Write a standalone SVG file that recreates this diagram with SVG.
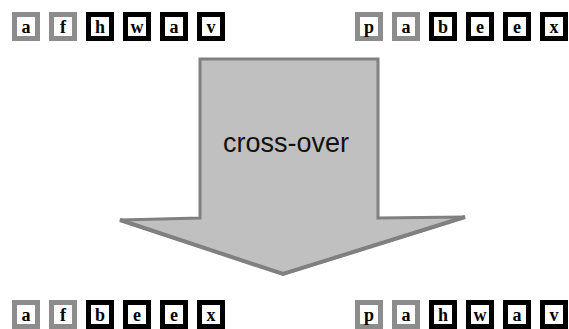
<svg xmlns="http://www.w3.org/2000/svg" width="569" height="329" viewBox="0 0 569 329">
<style>
.g{fill:#fff;stroke:#8c8c8c;stroke-width:5}
.k{fill:#fff;stroke:#000;stroke-width:5}
.t{font-family:"Liberation Serif",serif;font-weight:bold;font-size:18px;text-anchor:middle;fill:#000}
.lbl{font-family:"Liberation Sans",Arial,sans-serif;font-size:27px;text-anchor:middle;fill:#111}
</style>
<rect width="569" height="329" fill="#fff"/>
<g id="arrow">
<polygon points="200,59 378,59 378,218 465,217 283,274 120,220 200,218" fill="#c0c0c0" stroke="#808080" stroke-width="3" stroke-linejoin="miter"/>
<polyline points="120,220 283,274 465,217" fill="none" stroke="#808080" stroke-width="4"/>
<text class="lbl" x="286" y="152">cross-over</text>
</g>
<g id="top-left">
<g id="tl1"><rect class="g" x="14.5" y="14.5" width="23" height="24"/><text class="t" x="26" y="33">a</text></g>
<g id="tl2"><rect class="g" x="51.5" y="14.5" width="23" height="24"/><text class="t" x="63" y="33">f</text></g>
<g id="tl3"><rect class="k" x="88.5" y="14.5" width="23" height="24"/><text class="t" x="100" y="33">h</text></g>
<g id="tl4"><rect class="k" x="125.5" y="14.5" width="23" height="24"/><text class="t" x="137" y="33">w</text></g>
<g id="tl5"><rect class="k" x="162.5" y="14.5" width="23" height="24"/><text class="t" x="174" y="33">a</text></g>
<g id="tl6"><rect class="k" x="199.5" y="14.5" width="23" height="24"/><text class="t" x="211" y="33">v</text></g>
</g>
<g id="top-right">
<g id="tr1"><rect class="g" x="357.5" y="14.5" width="23" height="24"/><text class="t" x="369" y="33">p</text></g>
<g id="tr2"><rect class="g" x="394.5" y="14.5" width="23" height="24"/><text class="t" x="406" y="33">a</text></g>
<g id="tr3"><rect class="k" x="431.5" y="14.5" width="23" height="24"/><text class="t" x="443" y="33">b</text></g>
<g id="tr4"><rect class="k" x="468.5" y="14.5" width="23" height="24"/><text class="t" x="480" y="33">e</text></g>
<g id="tr5"><rect class="k" x="505.5" y="14.5" width="23" height="24"/><text class="t" x="517" y="33">e</text></g>
<g id="tr6"><rect class="k" x="542.5" y="14.5" width="23" height="24"/><text class="t" x="554" y="33">x</text></g>
</g>
<g id="bottom-left">
<g id="bl1"><rect class="g" x="14.5" y="302.5" width="23" height="24"/><text class="t" x="26" y="321">a</text></g>
<g id="bl2"><rect class="g" x="51.5" y="302.5" width="23" height="24"/><text class="t" x="63" y="321">f</text></g>
<g id="bl3"><rect class="k" x="88.5" y="302.5" width="23" height="24"/><text class="t" x="100" y="321">b</text></g>
<g id="bl4"><rect class="k" x="125.5" y="302.5" width="23" height="24"/><text class="t" x="137" y="321">e</text></g>
<g id="bl5"><rect class="k" x="162.5" y="302.5" width="23" height="24"/><text class="t" x="174" y="321">e</text></g>
<g id="bl6"><rect class="k" x="199.5" y="302.5" width="23" height="24"/><text class="t" x="211" y="321">x</text></g>
</g>
<g id="bottom-right">
<g id="br1"><rect class="g" x="357.5" y="302.5" width="23" height="24"/><text class="t" x="369" y="321">p</text></g>
<g id="br2"><rect class="g" x="394.5" y="302.5" width="23" height="24"/><text class="t" x="406" y="321">a</text></g>
<g id="br3"><rect class="k" x="431.5" y="302.5" width="23" height="24"/><text class="t" x="443" y="321">h</text></g>
<g id="br4"><rect class="k" x="468.5" y="302.5" width="23" height="24"/><text class="t" x="480" y="321">w</text></g>
<g id="br5"><rect class="k" x="505.5" y="302.5" width="23" height="24"/><text class="t" x="517" y="321">a</text></g>
<g id="br6"><rect class="k" x="542.5" y="302.5" width="23" height="24"/><text class="t" x="554" y="321">v</text></g>
</g>
</svg>
